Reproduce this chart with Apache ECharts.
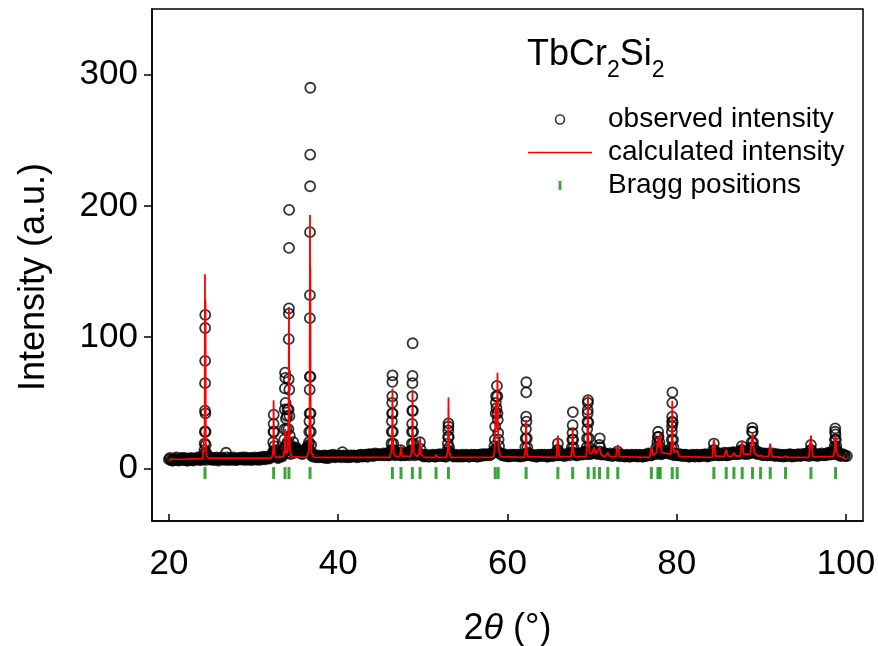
<!DOCTYPE html>
<html>
<head>
<meta charset="utf-8">
<title>TbCr2Si2</title>
<script src="https://cdn.jsdelivr.net/npm/echarts@6/dist/echarts.min.js"></script>
<style>
  html, body { margin: 0; padding: 0; background: #fff; }
  #main { width: 878px; height: 646px; }
</style>
</head>
<body>
<div id="main"></div>
<script>
// tick labels
var xTicks = [20, 40, 60, 80, 100];
var yTicks = [0, 100, 200, 300];

// observed intensity, background points [2theta, counts]
var obsBackground = [
  [20,7],[20.25,6.5],[20.5,6],[20.75,7.5],[21,6.5],[21.25,7],[21.5,8],[21.75,6.5],[22,7],[22.25,6],
  [22.5,7],[22.75,6.5],[23,7.5],[23.25,7],[23.5,8],[23.75,6.5],[24,7.5],[24.25,9],[24.5,8],[24.75,7.5],
  [25,7],[25.25,8],[25.5,6.5],[25.75,7.5],[26,7],[26.25,8.5],[26.5,7],[26.75,12],[27,6.5],[27.25,8],
  [27.5,7],[27.75,7.5],[28,6.5],[28.25,8],[28.5,7],[28.75,7.5],[29,8.5],[29.25,7],[29.5,6.5],[29.75,8],
  [30,7.5],[30.25,7],[30.5,8],[30.75,8.5],[31,7],[31.25,7.5],[31.5,9],[31.75,8],[32,8.5],[32.25,11],
  [32.5,14],[32.75,9],[33,8.5],[33.25,9.5],[33.5,11],[33.75,16],[34,20],[34.25,12],[34.5,13],[34.75,15],
  [35,16],[35.25,14],[35.5,12],[35.75,11],[36,13],[36.25,15],[36.5,18],[36.75,11],[37,9],[37.25,10],
  [37.5,9],[37.75,8.5],[38,9.5],[38.25,9],[38.5,8],[38.75,9],[39,10],[39.25,9.5],[39.5,9],[39.75,10],
  [40,9],[40.25,9.5],[40.5,12.5],[40.75,9],[41,8.5],[41.25,9],[41.5,10],[41.75,9.5],[42,9],[42.25,8.5],
  [42.5,9],[42.75,10],[43,9.5],[43.25,10],[43.5,9],[43.75,10.5],[44,11],[44.25,10],[44.5,10.5],[44.75,11],
  [45,11],[45.25,10.5],[45.5,10],[45.75,11.5],[46,10],[46.25,11],[46.5,12],[46.75,10],[47,11],[47.25,10.5],
  [47.5,10],[47.75,11],[48,10.5],[48.25,11],[48.5,13],[48.75,11],[49,10],[49.25,12],[49.5,11],[49.75,10.5],
  [50,10],[50.25,9.5],[50.5,10],[50.75,9],[51,9.5],[51.25,10],[51.5,9],[51.75,10],[52,11],[52.25,9.5],
  [52.5,10],[52.75,9],[53,12],[53.25,11],[53.5,10],[53.75,9.5],[54,9],[54.25,10],[54.5,9.5],[54.75,9],
  [55,9.5],[55.25,10],[55.5,9],[55.75,10.5],[56,9.5],[56.25,10],[56.5,9],[56.75,10],[57,11],[57.25,10],
  [57.5,10],[57.75,11],[58,10.5],[58.25,12],[58.5,14],[58.75,13],[59,12],[59.25,11],[59.5,10],[59.75,9.5],
  [60,10],[60.25,9.5],[60.5,10],[60.75,10.5],[61,9.5],[61.25,10],[61.5,9],[61.75,10],[62,11],[62.25,10.5],
  [62.5,11],[62.75,10],[63,9.5],[63.25,10],[63.5,9],[63.75,10],[64,10.5],[64.25,9.5],[64.5,10],[64.75,9],
  [65,9.5],[65.25,10],[65.5,10.5],[65.75,11],[66,10],[66.25,11],[66.5,10],[66.75,9.5],[67,10.5],[67.25,11],
  [67.5,11.5],[67.75,12],[68,11],[68.25,10],[68.5,10.5],[68.75,11],[69,12],[69.25,12.5],[69.5,11],[69.75,12],
  [70,12],[70.25,13],[70.5,12],[70.75,11.5],[71,12],[71.25,11],[71.5,10.5],[71.75,11],[72,10],[72.25,10.5],
  [72.5,10],[72.75,11],[73,10.5],[73.25,10],[73.5,9.5],[73.75,10],[74,9.5],[74.25,10],[74.5,9],[74.75,10],
  [75,9.5],[75.25,10],[75.5,9.5],[75.75,10],[76,9],[76.25,10],[76.5,10.5],[76.75,11],[77,10],[77.25,11],
  [77.5,12],[77.75,13],[78,12],[78.25,11],[78.5,12],[78.75,13],[79,12.5],[79.25,11],[79.5,10.5],[79.75,10],
  [80,11],[80.25,10],[80.5,10.5],[80.75,10],[81,9.5],[81.25,10],[81.5,9],[81.75,9.5],[82,10],[82.25,9.5],
  [82.5,10],[82.75,9.5],[83,10],[83.25,10.5],[83.5,10],[83.75,9.5],[84,11],[84.25,10],[84.5,10.5],[84.75,11],
  [85,10],[85.25,11],[85.5,10.5],[85.75,11],[86,10],[86.25,11],[86.5,11.5],[86.75,12],[87,11],[87.25,12],
  [87.5,12],[87.75,13],[88,11],[88.25,12],[88.5,11.5],[88.75,12],[89,13],[89.25,12],[89.5,11],[89.75,11.5],
  [90,11],[90.25,10.5],[90.5,11],[90.75,10],[91,11],[91.25,10.5],[91.5,10],[91.75,10.5],[92,10],[92.25,9.5],
  [92.5,10],[92.75,9.5],[93,10],[93.25,10.5],[93.5,10],[93.75,9.5],[94,10],[94.25,10.5],[94.5,10],[94.75,10.5],
  [95,11],[95.25,10],[95.5,10.5],[95.75,11],[96,10.5],[96.25,10],[96.5,10.5],[96.75,11],[97,10.5],[97.25,10],
  [97.5,10.5],[97.75,11],[98,11.5],[98.25,12],[98.5,12],[98.75,11],[99,10.5],[99.25,10],[99.5,10.5],[99.75,10],
  [100.1,9.5]
];

// observed intensity, background points read between the ones above
var obsBackground2 = [
  [20.125,8],[20.375,6],[20.625,7],[20.875,8.5],[21.125,6],[21.375,7.5],[21.625,6.5],[21.875,8],[22.125,6],[22.375,7.5],
  [22.625,8],[22.875,6],[23.125,7],[23.375,8.5],[23.625,6.5],[23.875,8],[24.125,7],[24.375,6.5],[24.625,9.5],[24.875,8.5],
  [25.125,6.5],[25.375,7.5],[25.625,8.5],[25.875,6],[26.125,8],[26.375,7],[26.625,6.5],[26.875,8.5],[27.125,7],[27.375,6.5],
  [27.625,8.5],[27.875,6.5],[28.125,7.5],[28.375,7],[28.625,8.5],[28.875,6.5],[29.125,7],[29.375,8],[29.625,7.5],[29.875,6.5],
  [30.125,8.5],[30.375,7],[30.625,6.5],[30.875,8],[31.125,9],[31.375,7],[31.625,8],[31.875,7.5],[32.125,9.5],[32.375,13],
  [32.625,10],[32.875,8],[33.125,10.5],[33.375,9],[33.625,13],[33.875,18],[34.125,15],[34.375,11],[34.625,14],[34.875,12],
  [35.125,15],[35.375,13],[35.625,11.5],[35.875,12],[36.125,14],[36.375,16],[36.625,13],[36.875,10],[37.125,9.5],[37.375,8.5],
  [37.625,10],[37.875,9],[38.125,8.5],[38.375,10],[38.625,9.5],[38.875,8],[39.125,9],[39.375,10.5],[39.625,8.5],[39.875,9.5],
  [40.125,10],[40.375,8.5],[40.625,10],[40.875,9.5],[41.125,10],[41.375,8.5],[41.625,9],[41.875,10],[42.125,9.5],[42.375,10],
  [42.625,10.5],[42.875,9],[43.125,10.5],[43.375,9],[43.625,11],[43.875,10],[44.125,9.5],[44.375,11.5],[44.625,10],[44.875,10.5],
  [45.125,10],[45.375,11.5],[45.625,11],[45.875,10],[46.125,12],[46.375,10.5],[46.625,11],[46.875,11.5],[47.125,12],[47.375,10],
  [47.625,11.5],[47.875,10],[48.125,12],[48.375,10],[48.625,11.5],[48.875,12],[49.125,12.5],[49.375,10.5],[49.625,11.5],[49.875,10],
  [50.125,9],[50.375,10.5],[50.625,9],[50.875,10],[51.125,10.5],[51.375,9],[51.625,10.5],[51.875,9.5],[52.125,10],[52.375,10.5],
  [52.625,9],[52.875,10.5],[53.125,13],[53.375,10],[53.625,9],[53.875,10.5],[54.125,10],[54.375,9],[54.625,10.5],[54.875,10],
  [55.125,10.5],[55.375,9],[55.625,10],[55.875,9.5],[56.125,10.5],[56.375,9],[56.625,10.5],[56.875,9.5],[57.125,10],[57.375,11],
  [57.625,10.5],[57.875,10],[58.125,11.5],[58.375,13],[58.625,15],[58.875,12],[59.125,11.5],[59.375,10],[59.625,11],[59.875,10],
  [60.125,9],[60.375,10.5],[60.625,9.5],[60.875,10],[61.125,10.5],[61.375,9.5],[61.625,10.5],[61.875,9.5],[62.125,10],[62.375,12],
  [62.625,10],[62.875,10.5],[63.125,10],[63.375,9],[63.625,10.5],[63.875,9.5],[64.125,10],[64.375,10.5],[64.625,9],[64.875,10.5],
  [65.125,10.5],[65.375,9.5],[65.625,11],[65.875,10],[66.125,12],[66.375,10],[66.625,10.5],[66.875,10.5],[67.125,11.5],[67.375,10],
  [67.625,12.5],[67.875,11],[68.125,10],[68.375,11.5],[68.625,11.5],[68.875,10.5],[69.125,13],[69.375,11],[69.625,12.5],[69.875,11],
  [70.125,13.5],[70.375,12],[70.625,11],[70.875,13],[71.125,10.5],[71.375,12],[71.625,11],[71.875,10],[72.125,11.5],[72.375,9.5],
  [72.625,11],[72.875,10],[73.125,9.5],[73.375,11],[73.625,10],[73.875,9],[74.125,10.5],[74.375,9],[74.625,10.5],[74.875,9.5],
  [75.125,10.5],[75.375,9],[75.625,10.5],[75.875,9],[76.125,10.5],[76.375,9.5],[76.625,11.5],[76.875,10],[77.125,11.5],[77.375,12.5],
  [77.625,11],[77.875,14],[78.125,11],[78.375,12.5],[78.625,13],[78.875,11.5],[79.125,13.5],[79.375,12],[79.625,11],[79.875,11],
  [80.125,10],[80.375,11],[80.625,9.5],[80.875,10.5],[81.125,10.5],[81.375,9],[81.625,10],[81.875,10.5],[82.125,9],[82.375,10.5],
  [82.625,9],[82.875,10.5],[83.125,9.5],[83.375,11],[83.625,9],[83.875,10.5],[84.125,10],[84.375,11],[84.625,11.5],[84.875,10],
  [85.125,11.5],[85.375,10],[85.625,12],[85.875,10],[86.125,12],[86.375,10.5],[86.625,12.5],[86.875,11],[87.125,12.5],[87.375,11],
  [87.625,13],[87.875,11.5],[88.125,12.5],[88.375,11],[88.625,13],[88.875,12.5],[89.125,12],[89.375,13.5],[89.625,11.5],[89.875,12],
  [90.125,10],[90.375,11.5],[90.625,10],[90.875,11.5],[91.125,10],[91.375,11.5],[91.625,9.5],[91.875,11],[92.125,9.5],[92.375,10.5],
  [92.625,9],[92.875,10.5],[93.125,9.5],[93.375,11],[93.625,9],[93.875,10.5],[94.125,9.5],[94.375,11],[94.625,9.5],[94.875,11],
  [95.125,10],[95.375,11.5],[95.625,9.5],[95.875,12],[96.125,10],[96.375,11],[96.625,9.5],[96.875,10.5],[97.125,11.5],[97.375,10.5],
  [97.625,10],[97.875,12],[98.125,10.5],[98.375,11],[98.625,13],[98.875,12],[99.125,11.5],[99.375,9.5],[99.625,11],[99.875,9.5]
];

// observed intensity, points on the reflections [2theta, counts]
var obsPeaks = [
  [24.15,11],[24.2,14],[24.22,19],[24.24,28],[24.26,44],[24.27,65],[24.28,82],[24.28,107],[24.29,117],[24.31,42],[24.33,28],[24.35,18],[24.4,12],
  [32.25,12],[32.32,20],[32.35,28],[32.37,34],[32.38,41],[32.42,28],[32.45,17],[32.5,12],
  [33.55,15],[33.62,22],[33.65,30],[33.68,45],[33.7,61],[33.72,73],[33.75,69],[33.78,50],[33.82,38],[33.88,30],[33.95,40],[34.0,45],
  [34.12,30],[34.14,45],[34.15,68],[34.16,98.5],[34.17,118],[34.18,122],[34.19,168],[34.2,197],[34.22,60],[34.24,40],[34.28,25],[34.35,18],
  [34.5,16],[34.7,20],[34.9,15],[35.2,13],[35.5,12],[35.8,12],[36.1,14],[36.3,16],
  [36.5,14],[36.55,20],[36.58,28],[36.6,36],[36.62,42],[36.63,60],[36.64,70],[36.65,114.5],[36.66,132],[36.67,180],[36.68,215],[36.69,239],[36.7,290],
  [36.72,70],[36.74,42],[36.76,28],[36.8,18],[36.9,12],
  [46.25,14],[46.3,19],[46.33,28],[46.35,36],[46.37,42],[46.38,50],[46.39,55],[46.4,66],[46.41,71],[46.43,42],[46.46,28],[46.5,19],[46.55,14],
  [47.4,14],[47.45,12],
  [48.65,14],[48.7,19],[48.72,28],[48.74,34],[48.75,44],[48.76,55],[48.77,65],[48.78,70.5],[48.79,95.4],[48.82,44],[48.85,28],[48.9,19],[49.0,14],
  [49.65,20],[49.7,15],
  [52.9,14],[52.95,19],[52.98,24],[53.0,29],[53.02,32],[53.03,34.4],[53.06,24],[53.1,16],
  [58.45,17],[58.5,22],[58.55,32],[58.6,42],[58.62,50],[58.65,55],[58.7,46],[58.75,62.9],[58.8,55],[58.82,42],[58.85,37],[58.9,27],[58.95,22],[59.0,17],
  [62.1,16],[62.15,23],[62.18,30],[62.2,39.5],[62.21,58],[62.22,65.7],[62.24,35.7],[62.28,23],[62.35,16],
  [65.85,14],[65.95,19],[66.0,14],
  [67.6,16],[67.65,22],[67.68,27],[67.7,33],[67.72,43],[67.76,22],[67.8,16],
  [69.35,16],[69.4,23],[69.42,30],[69.45,35.7],[69.47,42],[69.48,44.6],[69.5,50],[69.51,52],[69.55,35],[69.6,23],[69.65,16],
  [70.85,18],[70.9,23],[70.95,16],
  [73.0,13],
  [77.6,16],[77.7,20],[77.75,24],[77.8,28],[77.85,24],[77.95,20],[78.05,16],
  [79.35,16],[79.4,22],[79.42,28],[79.44,32],[79.45,35.7],[79.46,39.5],[79.47,50],[79.48,58],[79.52,35],[79.56,22],[79.6,16],
  [84.3,14],[84.38,19],[84.45,14],
  [87.6,14],[87.68,17],[87.75,14],
  [88.8,16],[88.85,20],[88.9,28],[88.93,31],[88.97,28],[89.0,20],[89.05,16],
  [95.8,14],[95.85,18],[95.9,14],
  [98.6,14],[98.65,17],[98.68,22],[98.7,28],[98.72,30.6],[98.76,26],[98.8,22],[98.85,17],[98.9,14]
];

// calculated intensity profile [2theta, counts]
var calculated = [
  [20,7],[22,7.2],[24.0,7.5],[24.15,9],[24.22,30],[24.26,148],[24.29,40],[24.32,128],[24.36,20],[24.45,9.5],[24.7,7.8],
  [28,7.8],[32.1,8],[32.28,11],[32.34,22],[32.37,52],[32.4,22],[32.46,11],[32.6,8.5],
  [33.55,9],[33.68,16],[33.73,30],[33.78,15],[33.9,11],[34.05,14],[34.13,40],[34.18,123],[34.22,40],[34.3,14],[34.5,9],
  [36.3,8.5],[36.55,14],[36.62,40],[36.67,193],[36.69,60],[36.71,153],[36.75,30],[36.85,12],[37.1,8.5],
  [46.1,8.5],[46.3,14],[46.37,30],[46.41,61],[46.45,28],[46.55,12],[46.8,9],[47.3,9.5],[47.42,17],[47.55,9.5],
  [48.55,9],[48.7,14],[48.74,30],[48.78,60],[48.82,28],[48.92,12],[49.3,9],[49.55,11],[49.67,23],[49.78,11],[50.2,8.5],
  [51.4,8.5],[51.56,10.5],[51.7,8.5],[52.8,8.5],[52.94,14],[53.0,30],[53.03,54],[53.06,28],[53.12,13],[53.3,8.5],
  [58.3,8.5],[58.45,12],[58.55,30],[58.6,50],[58.67,30],[58.75,35],[58.82,73],[58.86,35],[58.95,15],[59.2,9],
  [62.0,8.5],[62.12,14],[62.2,37],[62.26,14],[62.4,9],[65.8,8.5],[65.95,25],[66.1,9],
  [67.5,9],[67.62,14],[67.7,31],[67.76,14],[67.9,9],[69.3,9],[69.42,20],[69.5,55.5],[69.56,22],[69.7,12],
  [69.95,11],[70.24,16],[70.45,11],[70.87,16],[71.1,10],[71.5,9],[71.85,12],[72.1,9],[72.8,9],[73.03,18],[73.25,9],
  [76.8,8.5],[77.0,17],[77.2,10],[77.6,12],[77.77,24],[77.88,16],[78.04,27],[78.2,12],
  [79.3,11],[79.4,20],[79.47,51.5],[79.53,20],[79.7,12],[80.05,14],[80.3,9],
  [84.2,8.5],[84.38,22],[84.55,9.5],[85.6,9],[85.84,14.5],[86.05,9.5],[86.5,9],[86.75,12],[87.0,9.5],
  [87.5,9.5],[87.73,21],[87.9,11],[88.7,11],[88.95,27],[89.15,12],[89.6,9.5],[89.9,10],[90.2,9],
  [90.85,9],[91.04,19],[91.25,9],[92.6,8.5],[92.85,9.5],[93.1,8.5],[95.6,8.5],[95.85,25],[96.05,9],
  [98.5,9],[98.65,14],[98.76,25.5],[98.85,14],[99.1,9.5],[99.6,8.5],[100,7]
];

// Bragg reflection positions (2theta) and the level their markers sit at
var braggPositions = [24.26, 32.37, 33.71, 34.18, 36.67, 46.4, 47.42, 48.76, 49.67, 51.56, 53.02,
  58.55, 58.9, 62.2, 65.95, 67.7, 69.53, 70.24, 70.87, 71.85, 73.03, 77.0, 77.77, 78.04,
  79.46, 80.05, 84.38, 85.84, 86.75, 87.73, 88.95, 89.9, 91.04, 92.85, 95.85, 98.76];
var braggLevel = -3.5;

var font = "'Liberation Sans', Arial, sans-serif";
var green = '#0a8f0a';

var chart = echarts.init(document.getElementById('main'));

chart.setOption({
  animation: false,
  backgroundColor: '#fff',
  title: {
    text: '{m|TbCr}{s|2}{m|Si}{s|2}',
    left: 527,
    top: 35,
    padding: 0,
    textStyle: {
      rich: {
        m: { fontSize: 36, fontFamily: font, fontWeight: 'normal', color: '#000', lineHeight: 40 },
        s: { fontSize: 23, fontFamily: font, fontWeight: 'normal', color: '#000', lineHeight: 23, padding: [32, 0, 0, 0] }
      }
    }
  },
  legend: {
    orient: 'vertical',
    left: 528,
    top: 103,
    padding: 0,
    itemGap: 0,
    itemWidth: 64,
    itemHeight: 9,
    selectedMode: false,
    textStyle: { fontSize: 28, fontFamily: font, color: '#000', lineHeight: 33, padding: [0, 0, 0, 11] },
    data: [
      { name: 'observed intensity', icon: 'circle',
        itemStyle: { color: 'rgba(0,0,0,0)', borderColor: '#000', borderWidth: 1.6 } },
      { name: 'calculated intensity', icon: 'path://M0,0h64v1.5h-64z', itemStyle: { color: '#ff0000' } },
      { name: 'Bragg positions', icon: 'path://M0,0h2.5v8h-2.5z', itemStyle: { color: green } }
    ]
  },
  grid: {
    left: 152, right: 15, top: 9, bottom: 125,
    show: true, borderColor: '#000', borderWidth: 1.5,
    outerBoundsMode: 'none'
  },
  xAxis: {
    type: 'value',
    min: 18, max: 102,
    name: '{n|2}{t|θ}{n| (°)}',
    nameLocation: 'middle',
    nameGap: 90,
    nameTextStyle: {
      rich: {
        n: { fontSize: 36, fontFamily: font, color: '#000' },
        t: { fontSize: 36, fontFamily: font, fontStyle: 'italic', color: '#000' }
      }
    },
    axisLine: { onZero: false, lineStyle: { color: '#000', width: 1.5 } },
    axisTick: { inside: true, length: 7, lineStyle: { color: '#000', width: 1.5 }, customValues: xTicks },
    axisLabel: { fontSize: 35, fontFamily: font, color: '#000', margin: 26, customValues: xTicks },
    splitLine: { show: false }
  },
  yAxis: {
    type: 'value',
    min: -40, max: 350,
    name: 'Intensity (a.u.)',
    nameLocation: 'middle',
    nameRotate: 90,
    nameGap: 100,
    nameTextStyle: { fontSize: 36, fontFamily: font, color: '#000', padding: [0, 24, 0, 0] },
    axisLine: { onZero: false, lineStyle: { color: '#000', width: 1.5 } },
    axisTick: { length: 8, lineStyle: { color: '#000', width: 1.5 }, customValues: yTicks },
    axisLabel: { fontSize: 35, fontFamily: font, color: '#000', margin: 14, customValues: yTicks },
    splitLine: { show: false }
  },
  series: [
    {
      name: 'observed intensity',
      type: 'scatter',
      symbol: 'circle',
      symbolSize: 10,
      silent: true,
      z: 2,
      itemStyle: { color: 'rgba(0,0,0,0)', borderColor: '#000', borderWidth: 1.8 },
      data: obsBackground.concat(obsBackground2, obsPeaks)
    },
    {
      name: 'calculated intensity',
      type: 'line',
      symbol: 'none',
      silent: true,
      z: 3,
      lineStyle: { color: '#ff0000', width: 1.8 },
      itemStyle: { color: '#ff0000' },
      data: calculated
    },
    {
      name: 'Bragg positions',
      type: 'scatter',
      symbol: 'rect',
      symbolSize: [3, 12],
      silent: true,
      z: 3,
      itemStyle: { color: green },
      data: braggPositions.map(function (p) { return [p, braggLevel]; })
    }
  ]
});
</script>
</body>
</html>
